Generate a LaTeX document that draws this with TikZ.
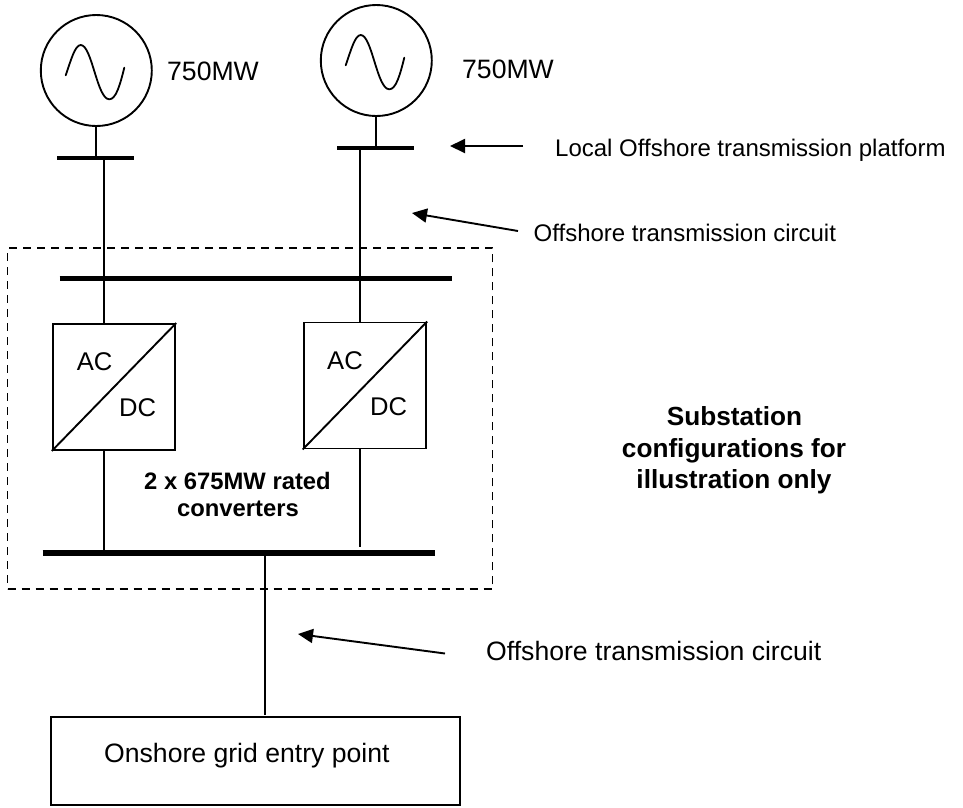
\documentclass[tikz,border=0pt]{standalone}
\usepackage{fontspec}
\setmainfont{Liberation Sans}
\usetikzlibrary{arrows.meta}
\tikzset{
  x=1pt,y=-1pt,
  wire/.style={line width=1.9pt,black},
  bus/.style={line width=4pt,black},
  mainbus/.style={line width=5.6pt,black},
  gen/.style={circle,draw,line width=1.9pt,minimum size=111pt,inner sep=0pt},
  conv/.style={draw,line width=1.9pt,minimum width=122.5pt,minimum height=126pt,inner sep=0pt},
  lab/.style={font=\fontsize{26.6}{30}\selectfont,inner sep=0pt,anchor=base west},
  smalllab/.style={font=\fontsize{24}{28}\selectfont,inner sep=0pt,anchor=base west},
  blab/.style={font=\fontsize{23.8}{27.5}\selectfont\bfseries,inner sep=0pt,anchor=base},
  blabbig/.style={font=\fontsize{26.2}{30}\selectfont\bfseries,inner sep=0pt,anchor=base},
  ptr/.style={line width=1.9pt,-{Triangle[length=15pt,width=14pt]}},
  sine/.style={line width=1.8pt,line cap=round},
}
\begin{document}
\begin{tikzpicture}
\useasboundingbox (0,0) rectangle (963,807);
% generators
\node[gen] (g1) at (96.3,70.5) {};
\node[gen] (g2) at (376.3,60.5) {};
\draw[sine] (65.7,75.3) .. controls (71,60) and (75,45) .. (80.7,45) .. controls (92,45) and (97,99.3) .. (109.3,99.3) .. controls (116,99.3) and (120,85) .. (124.3,67.7);
\draw[sine] (345.7,65.3) .. controls (351,50) and (355,35) .. (360.7,35) .. controls (372,35) and (377,89.3) .. (389.3,89.3) .. controls (396,89.3) and (400,75) .. (404.3,57.7);
\node[lab] (p1) at (167,80) {750MW};
\node[lab] (p2) at (462,78) {750MW};
% local buses
\coordinate (b1l) at (57,157.7); \coordinate (b1r) at (134,157.7);
\coordinate (b2l) at (337,147.7); \coordinate (b2r) at (414,147.7);
\draw[bus] (b1l) -- (b1r);
\draw[bus] (b2l) -- (b2r);
\coordinate (t1) at (95.7,157.7); \coordinate (t2) at (375.7,147.7);
\draw[wire] (g1.south -| t1) -- (t1);
\draw[wire] (g2.south -| t2) -- (t2);
% main buses
\coordinate (m1l) at (59.7,278.3); \coordinate (m1r) at (452,278.3);
\draw[mainbus] (m1l) -- (m1r);
\coordinate (m2l) at (42.7,552.7); \coordinate (m2r) at (435,552.7);
\draw[mainbus] (m2l) -- (m2r);
% converters
\node[conv] (c1) at (114,387) {};
\node[conv] (c2) at (364.9,385.5) {};
\draw[wire] (c1.south west) -- (c1.north east);
\draw[wire] (c2.south west) -- (c2.north east);
\node[lab,font=\fontsize{25.6}{30}\selectfont] (ac1) at (76.7,370) {AC};
\node[lab,font=\fontsize{25.6}{30}\selectfont] (dc1) at (119,416) {DC};
\node[lab,font=\fontsize{25.6}{30}\selectfont] (ac2) at (327,369) {AC};
\node[lab,font=\fontsize{25.6}{30}\selectfont] (dc2) at (370,415) {DC};
% wires
\coordinate (u1) at (104,157.7); \coordinate (u2) at (360.3,147.7);
\draw[wire] (u1) -- (c1.north -| u1);
\draw[wire] (u2) -- (c2.north -| u2);
\coordinate (y1) at (104,552.7); \coordinate (y2) at (360.3,546.7);
\draw[wire] (c1.south -| y1) -- (y1);
\draw[wire] (c2.south -| y2) -- (y2);
% dashed box
\node[draw,line width=1.9pt,dash pattern=on 8pt off 6pt,minimum width=485pt,minimum height=341pt,inner sep=0pt] (sub) at (250,418.8) {};
% grid
\node[draw,line width=1.9pt,minimum width=409pt,minimum height=88pt,inner sep=0pt] (grid) at (255.5,761) {};
\node[lab] (gl) at (104,762) {Onshore grid entry point};
\coordinate (z1) at (265,552.7);
\coordinate (z2) at (265,715);
\draw[wire] (z1) -- (z2);
% labels
\node[smalllab] (l1) at (555,156.7) {Local Offshore transmission platform};
\node[smalllab] (l2) at (533.5,241) {Offshore transmission circuit};
\node[lab] (l3) at (486,660) {Offshore transmission circuit};
\node[blabbig] (s1) at (734.5,425) {Substation};
\node[blabbig] (s2) at (734,457) {configurations for};
\node[blabbig] (s3) at (734,488) {illustration only};
\node[blab] (r1) at (237.5,489) {2 x 675MW rated};
\node[blab] (r2) at (238,516.7) {converters};
% pointers
\coordinate (a1s) at (523,146); \coordinate (a1e) at (450,146);
\coordinate (a2s) at (518,231); \coordinate (a2e) at (412,213);
\coordinate (a3s) at (445,653.5); \coordinate (a3e) at (298,634);
\draw[ptr] (a1s) -- (a1e);
\draw[ptr] (a2s) -- (a2e);
\draw[ptr] (a3s) -- (a3e);
\end{tikzpicture}
\end{document}
